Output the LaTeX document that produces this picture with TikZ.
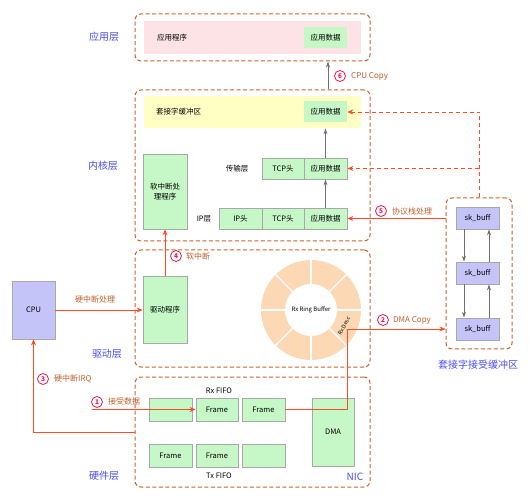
\documentclass[tikz,border=0pt]{standalone}
\usepackage{fontspec}
\setmainfont{Noto Sans CJK SC}
\usetikzlibrary{arrows.meta,positioning}
\definecolor{layerc}{HTML}{C8642A}
\definecolor{bluec}{HTML}{4B4BF5}
\definecolor{redc}{HTML}{FF4A26}
\definecolor{brownc}{HTML}{C0602A}
\definecolor{circc}{HTML}{E8174A}
\definecolor{greenc}{HTML}{C6F7C6}
\definecolor{linec}{HTML}{A8A8A8}
\definecolor{pinkc}{HTML}{FDE2E6}
\definecolor{yellowc}{HTML}{FFFFC4}
\definecolor{lavc}{HTML}{C4C4F8}
\definecolor{peachc}{HTML}{FCD9B4}
\definecolor{grayarr}{HTML}{707070}

\begin{document}
\begin{tikzpicture}[x=1pt, y=-1pt,
        layer/.style={draw=layerc, dashed, dash pattern=on 4pt off 2.5pt, line width=1pt, rounded corners=6pt, inner sep=0pt},
        box/.style={draw=linec, line width=0.8pt, fill=greenc, inner sep=0pt, align=center, font=\fontsize{7.5}{10}\selectfont},
        txt/.style={inner sep=0pt, font=\fontsize{7.5}{9}\selectfont},
        blue/.style={inner sep=0pt, text=bluec, font=\fontsize{10}{12}\selectfont},
        lbl/.style={inner sep=0pt, text=brownc, font=\fontsize{8}{9}\selectfont},
        numc/.style={circle, draw=circc, line width=0.8pt, fill=white, inner sep=0pt, minimum size=11pt, text=circc, font=\fontsize{6.5}{7}\selectfont\bfseries},
        redarr/.style={draw=redc, line width=0.9pt, -{Stealth[length=6pt,width=5pt]}},
        grarr/.style={draw=grayarr, line width=0.9pt, -{Stealth[length=6pt,width=4pt]}}]
    \useasboundingbox (0,0) rectangle (531,500);

    % layers
    \node[layer, minimum width=235pt, minimum height=47pt] (applayer) at (252.5,37.5) {};
    \node[layer, minimum width=235pt, minimum height=151pt] (kernlayer) at (252.5,165.5) {};
    \node[layer, minimum width=235pt, minimum height=117pt] (drvlayer) at (252.5,308.5) {};
    \node[layer, minimum width=235pt, minimum height=110pt] (hwlayer) at (252.5,432) {};
    \node[layer, minimum width=66pt, minimum height=151pt] (skarea) at (479,273.5) {};

    \node[blue] (appname) at (104,37) {应用层};
    \node[blue] (kernname) at (103,166) {内核层};
    \node[blue] (drvname) at (107,354) {驱动层};
    \node[blue] (hwname) at (104,476) {硬件层};
    \node[blue] (nicname) at (355,477) {NIC};
    \node[blue] (skname) at (478,365) {套接字接受缓冲区};

    % application
    \node[box, fill=pinkc, draw=none, minimum width=217pt, minimum height=33pt] (appbg) at (252.5,37.5) {};
    \node[txt, anchor=west] (apptxt) at (157,37.5) {应用程序};
    \node[box, draw=none, minimum width=43pt, minimum height=21pt] (adata) at (325.5,37.5) {应用数据};

    % kernel
    \node[box, fill=yellowc, draw=none, minimum width=217pt, minimum height=32pt] (sockbg) at (252.5,112) {};
    \node[txt, anchor=west] (socktxt) at (156,112) {套接字缓冲区};
    \node[box, draw=none, minimum width=43pt, minimum height=21pt] (ydata) at (325.5,112) {应用数据};

    \node[box, minimum width=44pt, minimum height=75pt] (softirq) at (165,191.5) {软中断处\\理程序};

    \node[txt] (tcpname) at (237,168.5) {传输层};
    \node[box, minimum width=42pt, minimum height=21pt] (thead) at (283,168.5) {TCP头};
    \node[box, minimum width=43pt, minimum height=21pt] (tdata) at (325.5,168.5) {应用数据};

    \node[txt] (ipname) at (204,218.5) {IP层};
    \node[box, minimum width=43pt, minimum height=21pt] (ihead) at (240.5,218.5) {IP头};
    \node[box, minimum width=42pt, minimum height=21pt] (itcp) at (283,218.5) {TCP头};
    \node[box, minimum width=43pt, minimum height=21pt] (idata) at (325.5,218.5) {应用数据};

    % driver
    \node[box, minimum width=44pt, minimum height=67pt] (drv) at (165,309.5) {驱动程序};
    \node[box, fill=lavc, minimum width=43pt, minimum height=58pt] (cpu) at (33.5,310) {CPU};

    \fill[peachc] (311,310) circle[radius=50];
    \fill[white] (311,310) circle[radius=26];
    \foreach \a in {0,45,...,315}
        \draw[white, line width=1.2pt] (311,310) ++(\a:26) -- ++(\a:24);
    \node[txt, font=\fontsize{6}{7}\selectfont] (ring) at (311,310) {Rx Ring Buffer};
    \node[txt, font=\fontsize{5.5}{6}\selectfont, rotate=62] (rxdesc) at (344,326) {Rx Desc};
    \coordinate (rxd) at (347,329);

    % hardware
    \node[txt] (rxname) at (219,391) {Rx FIFO};
    \node[box, minimum width=43pt, minimum height=23pt] (rx1) at (170.5,409.5) {};
    \node[box, minimum width=42pt, minimum height=23pt] (rx2) at (217,409.5) {Frame};
    \node[box, minimum width=43pt, minimum height=23pt] (rx3) at (263.5,409.5) {Frame};
    \node[box, minimum width=43pt, minimum height=23pt] (tx1) at (170.5,455.5) {Frame};
    \node[box, minimum width=42pt, minimum height=23pt] (tx2) at (217,455.5) {Frame};
    \node[box, minimum width=43pt, minimum height=23pt] (tx3) at (263.5,455.5) {};
    \node[txt] (txname) at (219,476) {Tx FIFO};
    \node[box, minimum width=42pt, minimum height=68pt] (dma) at (333,432) {DMA};

    % socket receive buffer
    \node[box, fill=lavc, minimum width=43pt, minimum height=22pt] (sk1) at (477.5,218) {sk\_buff};
    \node[box, fill=lavc, minimum width=43pt, minimum height=22pt] (sk2) at (477.5,273) {sk\_buff};
    \node[box, fill=lavc, minimum width=43pt, minimum height=22pt] (sk3) at (477.5,329) {sk\_buff};
    \draw[grarr] ([xshift=-13.5pt]sk1.south) -- ([xshift=-13.5pt]sk2.north);
    \draw[grarr] ([xshift=11.5pt]sk2.north) -- ([xshift=11.5pt]sk1.south);
    \draw[grarr] ([xshift=-13.5pt]sk2.south) -- ([xshift=-13.5pt]sk3.north);
    \draw[grarr] ([xshift=11.5pt]sk3.north) -- ([xshift=11.5pt]sk2.south);

    % 1
    \coordinate (rxin) at (92,409.5);
    \draw[redarr] (rxin) -- (rx2.west);
    \node[numc] (n1) at (97,402) {1};
    \node[lbl, anchor=west] (l1) at (108,401) {接受数据};

    % 2
    \draw[redarr] (rx3.east) -| (rxd) -- (skarea.west |- rxd);
    \node[numc] (n2) at (383,320) {2};
    \node[lbl, anchor=west] (l2) at (393,320) {DMA Copy};

    % 3
    \draw[redarr] (hwlayer.west) -| (cpu.south);
    \node[numc] (n3) at (43,379) {3};
    \node[lbl, anchor=west] (l3) at (54,379) {硬中断IRQ};

    \draw[redarr] (cpu.east) -- (cpu.east -| drv.west);
    \node[lbl] (l0) at (95,299) {硬中断处理};

    % 4
    \draw[redarr] (drv.north) -- (softirq.south);
    \node[numc] (n4) at (176,256) {4};
    \node[lbl, anchor=west] (l4) at (186,256) {软中断};

    % 5
    \draw[redarr] (skarea.west |- idata) -- (idata.east);
    \draw[redarr, dashed, dash pattern=on 4pt off 3pt] (skarea.north) -- (skarea.north |- ydata) -- (ydata.east);
    \draw[redarr, dashed, dash pattern=on 4pt off 3pt] (skarea.north |- tdata) -- (tdata.east);
    \node[numc] (n5) at (381,211) {5};
    \node[lbl, anchor=west] (l5) at (392,211) {协议栈处理};

    % protocol stack
    \draw[grarr] (idata.north) -- (tdata.south);
    \draw[grarr] (tdata.north) -- (tdata.north |- sockbg.south);

    % 6
    \draw[grarr] ([xshift=2.5pt]ydata.north |- kernlayer.north) -- ([xshift=2.5pt]ydata.north |- applayer.south);
    \node[numc] (n6) at (340,76) {6};
    \node[lbl, anchor=west] (l6) at (351,76) {CPU Copy};
\end{tikzpicture}
\end{document}
